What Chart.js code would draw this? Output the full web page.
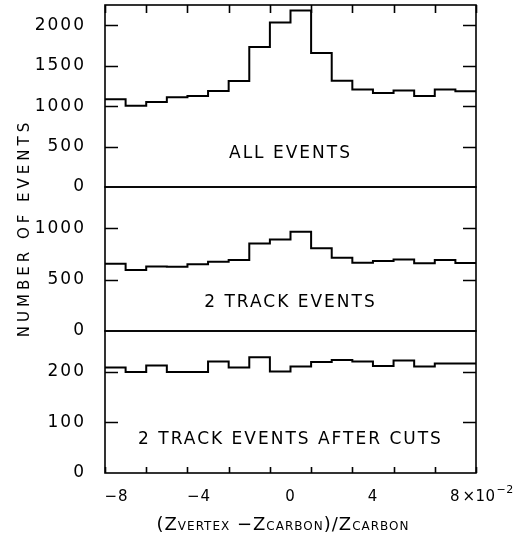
<!DOCTYPE html>
<html>
<head>
<meta charset="utf-8">
<script src="https://cdn.jsdelivr.net/npm/chart.js@4.4.0/dist/chart.umd.min.js"></script>
<style>
  html, body { margin: 0; padding: 0; background: #fff; }
  canvas { display: block; }
</style>
</head>
<body>
<canvas id="vertexChart" width="519" height="541"></canvas>
<script>
// bin edges, in units of 10^-2
const binEdges = [-9, -8, -7, -6, -5, -4, -3, -2, -1, 0, 1, 2, 3, 4, 5, 6, 7, 8, 9];
const allEvents = [1085, 1006, 1052, 1109, 1126, 1188, 1311, 1732, 2033, 2181, 1658, 1315, 1204, 1163, 1192, 1126, 1204, 1183];
const twoTrack = [655, 593, 628, 625, 648, 674, 691, 850, 889, 964, 805, 713, 664, 681, 694, 658, 691, 661];
const twoTrackCuts = [208, 199, 212, 199, 199, 220, 208, 228, 200, 210, 219, 223, 220, 211, 222, 210, 216, 216];
const panelLabels = ['ALL EVENTS', '2 TRACK EVENTS', '2 TRACK EVENTS AFTER CUTS'];
const panelMax = [2250, 1400, 280];
const yTicks = [
    [0, 500, 1000, 1500, 2000],
    [0, 500, 1000],
    [0, 100, 200]
];
const xLabelTicks = [-8, -4, 0, 4, 8];

const FONT = '"DejaVu Sans", sans-serif';

// one step point per bin edge, last bin closed at the final edge
function toSteps(values) {
    const pts = values.map((v, i) => ({ x: binEdges[i], y: v }));
    pts.push({ x: binEdges[binEdges.length - 1], y: values[values.length - 1] });
    return pts;
}

function yAxis(i) {
    return {
        type: 'linear',
        position: 'left',
        stack: 'panels',
        stackWeight: [182, 144, 142][i],
        min: 0,
        max: panelMax[i],
        grid: { display: false },
        border: { display: false },
        ticks: {
            color: '#000',
            padding: 11,
            font: { family: FONT, size: 17 },
            callback: v => String(v)
        },
        afterBuildTicks: s => { s.ticks = yTicks[i].map(v => ({ value: v })); },
        afterFit: s => { s.width = 105; s.paddingTop = 0; s.paddingBottom = 0; }
    };
}

function text(ctx, str, x, y, size, spacing, align) {
    ctx.font = size + 'px ' + FONT;
    ctx.letterSpacing = spacing + 'px';
    ctx.textAlign = align || 'center';
    ctx.fillText(str, x, y);
}

const panelPlugin = {
    id: 'panels',
    beforeDraw(chart) {
        chart.ctx.letterSpacing = '2px';
    },
    afterDraw(chart) {
        const ctx = chart.ctx;
        const area = chart.chartArea;
        const xs = chart.scales.x;
        const ids = ['y1', 'y2', 'y3'];
        const labelAt = [410, 280, 66];

        ctx.save();
        ctx.strokeStyle = '#000';
        ctx.fillStyle = '#000';
        ctx.lineWidth = 1.6;

        ids.forEach((id, i) => {
            const s = chart.scales[id];
            ctx.strokeRect(area.left, s.top, area.right - area.left, s.bottom - s.top);
            // inward ticks on both sides
            ctx.beginPath();
            s.ticks.forEach(t => {
                if (t.value <= 0) return;
                const py = Math.round(s.getPixelForValue(t.value)) + 0.5;
                ctx.moveTo(area.left, py);
                ctx.lineTo(area.left + 13, py);
                ctx.moveTo(area.right, py);
                ctx.lineTo(area.right - 13, py);
            });
            ctx.stroke();

            ctx.textBaseline = 'middle';
            text(ctx, panelLabels[i], xs.getPixelForValue(0), s.getPixelForValue(labelAt[i]), 17, 2);
        });

        // x ticks along the top of the first panel and the bottom of the last
        const top = chart.scales.y1.top;
        const bottom = chart.scales.y3.bottom;
        ctx.beginPath();
        xs.ticks.forEach(t => {
            const px = Math.round(xs.getPixelForValue(t.value)) + 0.5;
            const major = t.value % 4 === 0;
            ctx.moveTo(px, top);
            ctx.lineTo(px, top + (major ? 10 : 8));
            ctx.moveTo(px, bottom);
            ctx.lineTo(px, bottom - (major ? 11 : 6));
        });
        ctx.stroke();

        // x tick labels
        ctx.textBaseline = 'alphabetic';
        const base = bottom + 28;
        xLabelTicks.forEach(v => {
            const px = xs.getPixelForValue(v);
            if (v < 0) {
                text(ctx, '\u2212' + Math.abs(v), px + 3, base, 15, 1, 'right');
            } else {
                text(ctx, String(v), px, base, 15, 1);
            }
        });
        const p8 = xs.getPixelForValue(8);
        text(ctx, '\u00d710', p8 + 7, base, 15, 0.5, 'left');
        ctx.font = '15px ' + FONT;
        const w10 = ctx.measureText('\u00d710').width;
        text(ctx, '\u22122', p8 + 8 + w10, base - 8, 11, 0.5, 'left');

        // x axis title with small-caps subscripts
        const parts = [['(', 18], ['Z', 18], ['VERTEX', 12], [' \u2212', 18], ['Z', 18], ['CARBON', 12], [')/', 18], ['Z', 18], ['CARBON', 12]];
        let total = 0;
        parts.forEach(p => {
            ctx.font = p[1] + 'px ' + FONT;
            ctx.letterSpacing = '1px';
            total += ctx.measureText(p[0]).width;
        });
        let cx = 283 - total / 2;
        const tb = bottom + 57;
        parts.forEach(p => {
            text(ctx, p[0], cx, tb, p[1], 1, 'left');
            cx += ctx.measureText(p[0]).width;
        });

        // y axis title
        ctx.save();
        ctx.translate(25, 228);
        ctx.rotate(-Math.PI / 2);
        ctx.textBaseline = 'middle';
        text(ctx, 'NUMBER OF EVENTS', 0, 0, 15, 4);
        ctx.restore();

        ctx.restore();
    }
};

function stepSet(values, axis) {
    return {
        data: toSteps(values),
        yAxisID: axis,
        stepped: true,
        borderColor: '#000',
        borderWidth: 2,
        pointRadius: 0,
        fill: false
    };
}

document.addEventListener('DOMContentLoaded', () => {
    const ctx = document.getElementById('vertexChart').getContext('2d');
    new Chart(ctx, {
        type: 'line',
        data: {
            datasets: [
                stepSet(allEvents, 'y1'),
                stepSet(twoTrack, 'y2'),
                stepSet(twoTrackCuts, 'y3')
            ]
        },
        options: {
            responsive: false,
            animation: false,
            layout: { padding: { top: 5, right: 43, left: 0, bottom: 0 } },
            plugins: { legend: { display: false }, tooltip: { enabled: false } },
            scales: {
                x: {
                    type: 'linear',
                    min: -9,
                    max: 9,
                    grid: { display: false },
                    border: { display: false },
                    ticks: { stepSize: 2, includeBounds: false, display: false },
                    afterFit: s => { s.height = 68; }
                },
                // stacked panels: the last defined sits on top
                y3: yAxis(2),
                y2: yAxis(1),
                y1: yAxis(0)
            }
        },
        plugins: [panelPlugin]
    });
});
</script>
</body>
</html>
